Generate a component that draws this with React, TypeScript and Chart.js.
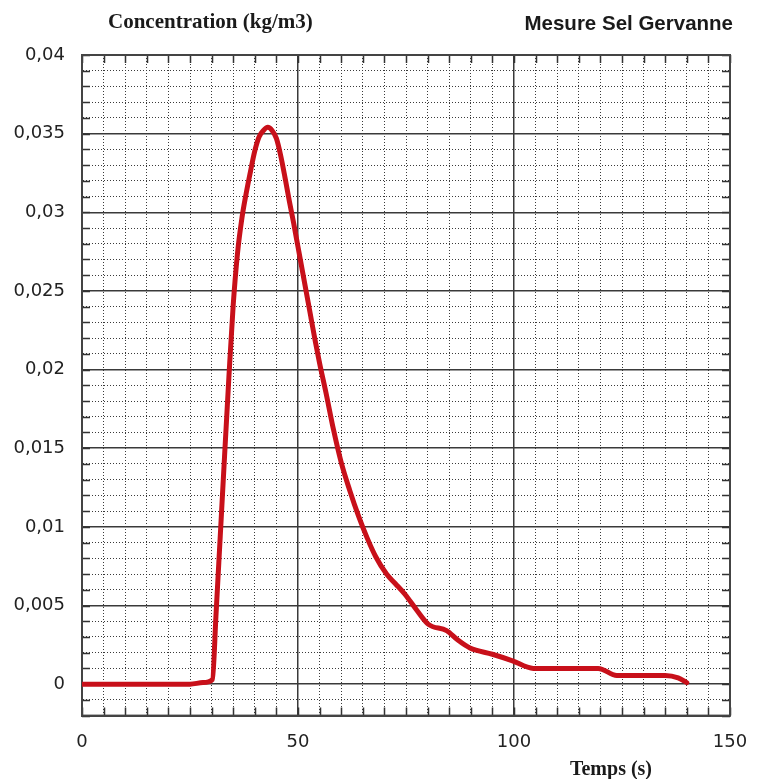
import React, { useEffect, useRef } from 'react';
import { Chart, registerables } from 'chart.js';

Chart.register(...registerables);

// Data
const timeS = [0, 25, 28, 30.2, 31, 32, 33, 34, 35, 36, 37, 38, 39, 40, 41, 42, 43, 44, 45, 46, 47, 48, 49, 50, 51, 52, 53, 54, 55, 56.5, 58.2, 60, 62, 64, 66, 68, 70.5, 72.5, 74.8, 77.5, 80.2, 84.4, 87, 89.8, 95, 99.5, 104.5, 119.5, 123.8, 135, 138, 140];
const concentration = [0, 0, 0.0001, 0.0003, 0.0043, 0.0094, 0.0145, 0.0195, 0.0241, 0.0274, 0.0296, 0.0312, 0.0326, 0.0339, 0.0348, 0.0352, 0.0354, 0.0352, 0.0347, 0.0336, 0.0322, 0.0307, 0.0293, 0.0278, 0.0263, 0.0248, 0.0233, 0.0218, 0.0204, 0.0185, 0.0162, 0.0141, 0.0123, 0.0107, 0.0093, 0.0081, 0.007, 0.0064, 0.0057, 0.0047, 0.0038, 0.0034, 0.0028, 0.0023, 0.0019, 0.0015, 0.001, 0.001, 0.00055, 0.00055, 0.0004, 0.0001];

const xTickValues = [0, 50, 100, 150];
const xTickLabels = ['0', '50', '100', '150'];
const yTickValues = [0, 0.005, 0.01, 0.015, 0.02, 0.025, 0.03, 0.035, 0.04];
const yTickLabels = ['0', '0,005', '0,01', '0,015', '0,02', '0,025', '0,03', '0,035', '0,04'];

const yTitle = 'Concentration (kg/m3)';
const chartTitle = 'Mesure Sel Gervanne';
const xTitle = 'Temps (s)';

const W = 759;
const H = 779;

const near = (a: number, b: number, eps: number) => Math.abs(a - b) < eps;

function labelFor(values: number[], labels: string[], v: number, eps: number) {
  for (let i = 0; i < values.length; i++) if (near(values[i], v, eps)) return labels[i];
  return '';
}

const decorPlugin = {
  id: 'decor',
  beforeDatasetsDraw(chart: any) {
    const { ctx, chartArea, scales } = chart;
    const x = scales.x;
    const y = scales.y;
    const L = 8;
    ctx.save();
    ctx.strokeStyle = '#333';
    ctx.lineWidth = 1.5;
    ctx.beginPath();
    x.ticks.forEach((t: any) => {
      const px = Math.round(x.getPixelForValue(t.value)) + 0.5;
      ctx.moveTo(px, chartArea.top);
      ctx.lineTo(px, chartArea.top + L);
      ctx.moveTo(px, chartArea.bottom);
      ctx.lineTo(px, chartArea.bottom - L);
    });
    y.ticks.forEach((t: any) => {
      const py = Math.round(y.getPixelForValue(t.value)) + 0.5;
      ctx.moveTo(chartArea.left, py);
      ctx.lineTo(chartArea.left + L, py);
      ctx.moveTo(chartArea.right, py);
      ctx.lineTo(chartArea.right - L, py);
    });
    ctx.stroke();
    ctx.strokeStyle = '#444';
    ctx.lineWidth = 2;
    ctx.strokeRect(chartArea.left, chartArea.top, chartArea.right - chartArea.left, chartArea.bottom - chartArea.top);
    ctx.restore();
  },
  afterDraw(chart: any) {
    const { ctx } = chart;
    ctx.save();
    ctx.fillStyle = '#1a1a1a';
    ctx.textBaseline = 'middle';
    ctx.font = 'bold 21px "Liberation Serif", serif';
    ctx.textAlign = 'left';
    ctx.fillText(yTitle, 108, 23);
    ctx.font = 'bold 20px "Liberation Serif", serif';
    ctx.textAlign = 'center';
    ctx.fillText(xTitle, 611, 770);
    ctx.font = 'bold 20.5px "Liberation Sans", sans-serif';
    ctx.textAlign = 'right';
    ctx.fillText(chartTitle, 733, 24);
    ctx.restore();
  },
};

export default function App() {
  const ref = useRef<HTMLCanvasElement | null>(null);

  useEffect(() => {
    if (!ref.current) return;
    const isMajorX = (c: any) => c.tick && xTickValues.some((v) => near(v, c.tick.value, 1e-6));
    const isMajorY = (c: any) => c.tick && yTickValues.some((v) => near(v, c.tick.value, 1e-7));
    const chart = new Chart(ref.current, {
      type: 'line',
      data: {
        datasets: [
          {
            data: timeS.map((t, i) => ({ x: t, y: concentration[i] })),
            borderColor: '#c8101a',
            borderWidth: 5,
            pointRadius: 0,
            fill: false,
            cubicInterpolationMode: 'monotone',
            borderCapStyle: 'round',
            borderJoinStyle: 'round',
          },
        ],
      },
      options: {
        animation: false,
        responsive: false,
        events: [],
        layout: { padding: { top: 55, right: 29, left: 0, bottom: 0 } },
        plugins: {
          legend: { display: false },
          tooltip: { enabled: false },
          title: { display: false },
        },
        scales: {
          x: {
            type: 'linear',
            min: 0,
            max: 150,
            afterFit: (s: any) => {
              s.height = 63.4;
              s.paddingLeft = 0;
              s.paddingRight = 0;
            },
            ticks: {
              stepSize: 5,
              autoSkip: false,
              maxRotation: 0,
              padding: 16,
              color: '#222',
              font: { family: '"DejaVu Sans", sans-serif', size: 18 },
              callback: (v: any) => labelFor(xTickValues, xTickLabels, Number(v), 1e-6),
            },
            grid: {
              drawTicks: false,
              color: '#3a3a3a',
              lineWidth: (c: any) => (isMajorX(c) ? 1.5 : 1),
            },
            border: {
              display: true,
              color: '#444',
              width: 2,
              dash: (c: any) => (isMajorX(c) ? [] : [1, 2]),
            },
          },
          y: {
            type: 'linear',
            min: -0.002,
            max: 0.04,
            afterFit: (s: any) => {
              s.width = 82;
              s.paddingTop = 0;
              s.paddingBottom = 0;
            },
            ticks: {
              stepSize: 0.001,
              autoSkip: false,
              padding: 17,
              color: '#222',
              font: { family: '"DejaVu Sans", sans-serif', size: 18 },
              callback: (v: any) => labelFor(yTickValues, yTickLabels, Number(v), 1e-7),
            },
            grid: {
              drawTicks: false,
              color: '#3a3a3a',
              lineWidth: (c: any) => (isMajorY(c) ? 1.5 : 1),
            },
            border: {
              display: true,
              color: '#444',
              width: 2,
              dash: (c: any) => (isMajorY(c) ? [] : [1, 2]),
            },
          },
        },
      },
      plugins: [decorPlugin],
    } as any);
    return () => chart.destroy();
  }, []);

  return (
    <div style={{ position: 'absolute', left: 0, top: 0, width: W, height: H, background: '#fff' }}>
      <canvas ref={ref} width={W} height={H} style={{ display: 'block', width: W, height: H }} />
    </div>
  );
}
